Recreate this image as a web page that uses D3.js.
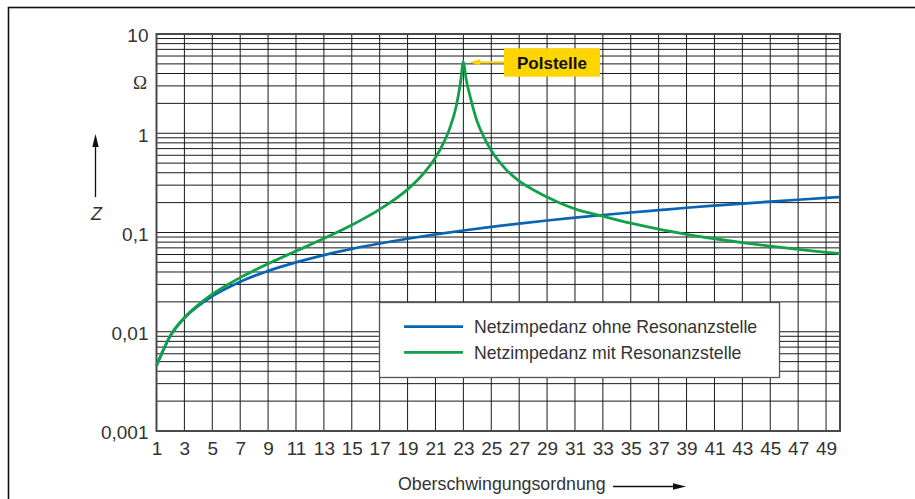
<!DOCTYPE html>
<html>
<head>
<meta charset="utf-8">
<script src="https://cdn.jsdelivr.net/npm/d3@7"></script>
<style>
  html, body { margin: 0; padding: 0; background: #fff; }
  svg { display: block; }
  text { font-family: "Liberation Sans", Arial, sans-serif; fill: #333; }
</style>
</head>
<body>
<svg id="chart" width="915" height="499"></svg>
<script>
// ---- data ----
const xTickValues = [1,3,5,7,9,11,13,15,17,19,21,23,25,27,29,31,33,35,37,39,41,43,45,47,49];
const yTickValues = [0.001, 0.01, 0.1, 1, 10];
const yTickLabels = ["0,001", "0,01", "0,1", "1", "10"];

const blueH = [1, 2, 3, 5, 7, 9, 11, 13, 15, 17, 19, 21, 23, 25, 27, 29, 31, 33, 35, 37, 39, 41, 43, 45, 47, 49, 50];
const blueZ = [0.00455, 0.0091, 0.0137, 0.0228, 0.0319, 0.041, 0.05, 0.0592, 0.0683, 0.0774, 0.0865, 0.0956, 0.1047, 0.1138, 0.1229, 0.132, 0.141, 0.150, 0.159, 0.168, 0.1775, 0.1866, 0.1957, 0.2048, 0.2139, 0.223, 0.2275];

const greenH = [1, 2, 3, 4, 5, 7, 9, 11, 13, 15, 17, 19, 20, 21, 21.5, 22, 22.5, 22.8, 23, 23.2, 23.5, 24, 24.5, 25, 26, 27, 28, 29, 30, 31, 33, 35, 37, 39, 41, 43, 45, 47, 49, 50];
const greenZ = [0.00456, 0.0092, 0.0139, 0.0187, 0.0239, 0.0351, 0.0484, 0.065, 0.087, 0.119, 0.171, 0.272, 0.373, 0.57, 0.76, 1.1, 1.9, 3.3, 5.26, 3.5, 2.3, 1.3, 0.9, 0.67, 0.44, 0.33, 0.27, 0.228, 0.196, 0.173, 0.146, 0.124, 0.108, 0.096, 0.0865, 0.079, 0.0728, 0.0676, 0.0632, 0.0612];

const seriesNames = ["Netzimpedanz ohne Resonanzstelle", "Netzimpedanz mit Resonanzstelle"];
const seriesColors = ["#0a64b4", "#12a04a"];

// ---- layout ----
const svg = d3.select("#chart");
const L = 156.5, R = 840, T = 34, B = 431;
const x = d3.scaleLinear().domain([1, 50]).range([L, R]);
const y = d3.scaleLog().domain([0.001, 10]).range([B, T]);

// outer frame (cut by image edge)
svg.append("rect").attr("x", 8.5).attr("y", 7.5).attr("width", 1000).attr("height", 1000)
  .attr("fill", "none").attr("stroke", "#111").attr("stroke-width", 1.6);

// grid
const g = svg.append("g");
const minor = [];
for (let k = -3; k <= 0; k++) for (let m = 1; m <= 9; m++) minor.push(m * Math.pow(10, k));
minor.push(10);
g.selectAll("line.h").data(minor).join("line")
  .attr("x1", L).attr("x2", R)
  .attr("y1", d => y(d)).attr("y2", d => y(d))
  .attr("stroke", "#1a1a1a").attr("stroke-width", 1);
g.selectAll("line.v").data(xTickValues.slice(1)).join("line")
  .attr("x1", d => x(d)).attr("x2", d => x(d))
  .attr("y1", T).attr("y2", B)
  .attr("stroke", "#1a1a1a").attr("stroke-width", 1);

// plot border
svg.append("rect").attr("x", L).attr("y", T).attr("width", R - L).attr("height", B - T)
  .attr("fill", "none").attr("stroke", "#4a4a4a").attr("stroke-width", 2);

// axes (labels only)
const xAxis = svg.append("g").attr("transform", `translate(0,${B})`)
  .call(d3.axisBottom(x).tickValues(xTickValues).tickFormat(d3.format("d")).tickSize(0).tickPadding(11));
xAxis.select(".domain").remove();
xAxis.selectAll("text").attr("font-size", 19).attr("fill", "#333")
  .attr("font-family", "Liberation Sans, Arial, sans-serif");

const yAxis = svg.append("g").attr("transform", `translate(${L},0)`)
  .call(d3.axisLeft(y).tickValues(yTickValues).tickFormat((d, i) => yTickLabels[i]).tickSize(0).tickPadding(8));
yAxis.select(".domain").remove();
yAxis.selectAll("text").attr("font-size", 19).attr("fill", "#333").attr("dy", "0.42em")
  .attr("font-family", "Liberation Sans, Arial, sans-serif");

// unit
svg.append("text").attr("x", 147).attr("y", 89).attr("text-anchor", "end")
  .attr("font-size", 19).style("font-family", "Liberation Serif, serif").text("Ω");

// Z label + arrow
svg.append("text").attr("x", 96.5).attr("y", 220).attr("text-anchor", "middle")
  .attr("font-size", 18).attr("font-style", "italic").text("Z");
svg.append("line").attr("x1", 95.5).attr("x2", 95.5).attr("y1", 197).attr("y2", 145)
  .attr("stroke", "#111").attr("stroke-width", 1.3);
svg.append("path").attr("d", "M95.5,134 L92.3,147 L98.7,147 Z").attr("fill", "#111");

// x title + arrow
svg.append("text").attr("x", 398).attr("y", 490).attr("font-size", 17.8).text("Oberschwingungsordnung");
svg.append("line").attr("x1", 613).attr("x2", 676).attr("y1", 486.5).attr("y2", 486.5)
  .attr("stroke", "#111").attr("stroke-width", 1.3);
svg.append("path").attr("d", "M686,486.5 L673,483.3 L673,489.7 Z").attr("fill", "#111");

// curves
const line = d3.line().x(d => x(d[0])).y(d => y(d[1])).curve(d3.curveMonotoneX);
const blueData = blueH.map((h, i) => [h, blueZ[i]]);
const greenData = greenH.map((h, i) => [h, greenZ[i]]);
svg.append("path").datum(blueData).attr("d", line).attr("fill", "none")
  .attr("stroke", seriesColors[0]).attr("stroke-width", 2.7);
svg.append("path").datum(greenData).attr("d", line).attr("fill", "none")
  .attr("stroke", seriesColors[1]).attr("stroke-width", 2.8);

// legend
const lg = svg.append("g");
lg.append("rect").attr("x", 379.5).attr("y", 302.5).attr("width", 400).attr("height", 75)
  .attr("fill", "#fff").attr("stroke", "#555").attr("stroke-width", 1.3);
[0, 1].forEach(i => {
  const yy = i === 0 ? 326.7 : 352.3;
  lg.append("line").attr("x1", 404).attr("x2", 463).attr("y1", yy).attr("y2", yy)
    .attr("stroke", seriesColors[i]).attr("stroke-width", 2.7);
  lg.append("text").attr("x", 474).attr("y", yy + 6.5).attr("font-size", 17.7).text(seriesNames[i]);
});

// Polstelle annotation
const peakIdx = greenZ.indexOf(d3.max(greenZ));
const px = x(greenH[peakIdx]), py = y(greenZ[peakIdx]);
svg.append("rect").attr("x", 504).attr("y", 48.3).attr("width", 96).attr("height", 28.4).attr("fill", "#ffd500");
svg.append("text").attr("x", 552).attr("y", 68.5).attr("text-anchor", "middle")
  .attr("font-size", 17).attr("font-weight", "bold").style("fill", "#111").text("Polstelle");
svg.append("line").attr("x1", 504).attr("x2", px + 14).attr("y1", py + 0.6).attr("y2", py + 0.6)
  .attr("stroke", "#ffd500").attr("stroke-width", 2);
svg.append("path").attr("d", `M${px + 6},${py + 0.6} L${px + 17},${py - 2.6} L${px + 17},${py + 3.8} Z`).attr("fill", "#ffd500");
</script>
</body>
</html>
